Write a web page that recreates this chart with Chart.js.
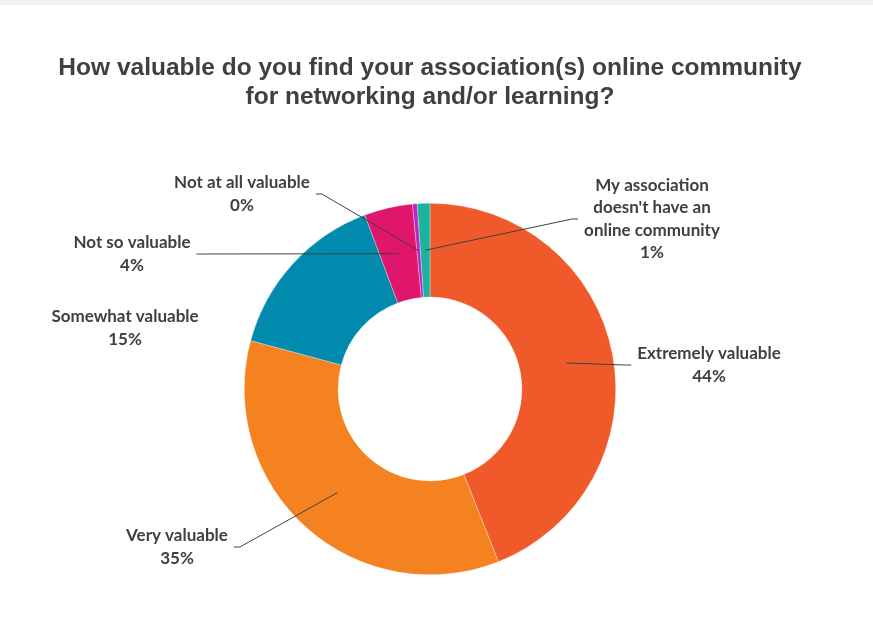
<!DOCTYPE html>
<html>
<head>
<meta charset="utf-8">
<title>Online community value</title>
<script src="https://cdn.jsdelivr.net/npm/chart.js@4/dist/chart.umd.min.js"></script>
<style>
  html, body { margin: 0; padding: 0; background: #ffffff; }
  #wrap { position: relative; width: 873px; height: 628px; }
  #topbar { position: absolute; left: 0; top: 0; width: 873px; height: 5px; background: #f2f2f2; }
</style>
</head>
<body>
<div id="wrap">
  <canvas id="chart"></canvas>
  <div id="topbar"></div>
</div>
<script>
// Survey answers, clockwise from 12 o'clock
const categories = [
  'Extremely valuable',
  'Very valuable',
  'Somewhat valuable',
  'Not so valuable',
  'Not at all valuable',
  ['My association', "doesn't have an", 'online community']
];
// Share of respondents (%)
const shares = [44.0, 35.2, 15.1, 4.2, 0.4, 1.1];
const sliceColors = ['#f05a2b', '#f58220', '#008bae', '#e0156c', '#b52bbf', '#1bb3a0'];
const titleLines = [
  'How valuable do you find your association(s) online community',
  'for networking and/or learning?'
];

// Where each callout block sits, relative to the ring centre
const calloutSpots = [
  { dx: 279, dy: -24, leader: true },
  { dx: -253, dy: 158, leader: true },
  { dx: -305, dy: -61, leader: false },
  { dx: -298, dy: -135, leader: true },
  { dx: -188, dy: -195, leader: true },
  { dx: 222, dy: -170, leader: true }
];

// Draws the category / percent callouts and their leader lines
const calloutPlugin = {
  id: 'callouts',
  afterDatasetsDraw(chart, args, opts) {
    const ctx = chart.ctx;
    const meta = chart.getDatasetMeta(0);
    const ds = chart.data.datasets[0];
    const total = ds.data.reduce((a, b) => a + b, 0);
    const cx = meta.data[0].x, cy = meta.data[0].y;
    ctx.save();
    ctx.font = opts.font;
    ctx.fillStyle = opts.color;
    ctx.strokeStyle = opts.lineColor;
    ctx.lineWidth = 1;
    ctx.textAlign = 'center';
    ctx.textBaseline = 'middle';
    meta.data.forEach((arc, i) => {
      const spot = opts.spots[i];
      const lines = [].concat(chart.data.labels[i], Math.round(ds.data[i] / total * 100) + '%');
      const lx = cx + spot.dx, ly = cy + spot.dy;
      const lh = opts.lineHeight;
      const top = ly - (lines.length - 1) * lh / 2;
      const w = Math.max(...lines.map(t => ctx.measureText(t).width));
      lines.forEach((t, k) => ctx.fillText(t, lx, top + k * lh));
      if (spot.leader) {
        const p = arc.tooltipPosition();
        const right = spot.dx > 0;
        const ex = right ? lx - w / 2 - opts.gap : lx + w / 2 + opts.gap;
        const sx = right ? ex - opts.stub : ex + opts.stub;
        ctx.beginPath();
        ctx.moveTo(p.x, p.y);
        ctx.lineTo(sx, ly);
        ctx.lineTo(ex, ly);
        ctx.stroke();
      }
    });
    ctx.restore();
  }
};

new Chart(document.getElementById('chart'), {
  type: 'doughnut',
  data: {
    labels: categories,
    datasets: [{
      data: shares,
      backgroundColor: sliceColors,
      borderColor: 'rgba(255,255,255,0.6)',
      borderWidth: 0.5
    }]
  },
  options: {
    responsive: true,
    maintainAspectRatio: false,
    animation: false,
    cutout: '49.5%',
    layout: { padding: { left: 0, right: 13, top: 0, bottom: 53 } },
    plugins: {
      legend: { display: false },
      tooltip: { enabled: false },
      title: {
        display: true,
        text: titleLines,
        color: '#404040',
        font: { family: '"Liberation Sans", Arial, sans-serif', size: 24.5, weight: 'bold', lineHeight: 1.2 },
        padding: { top: 53.3, bottom: 90.9 }
      },
      callouts: {
        spots: calloutSpots,
        font: 'bold 17px Lato, "Open Sans", sans-serif',
        color: '#404040',
        lineColor: '#404040',
        lineHeight: 22.5,
        gap: 6,
        stub: 6
      }
    }
  },
  plugins: [calloutPlugin]
});
</script>
</body>
</html>
